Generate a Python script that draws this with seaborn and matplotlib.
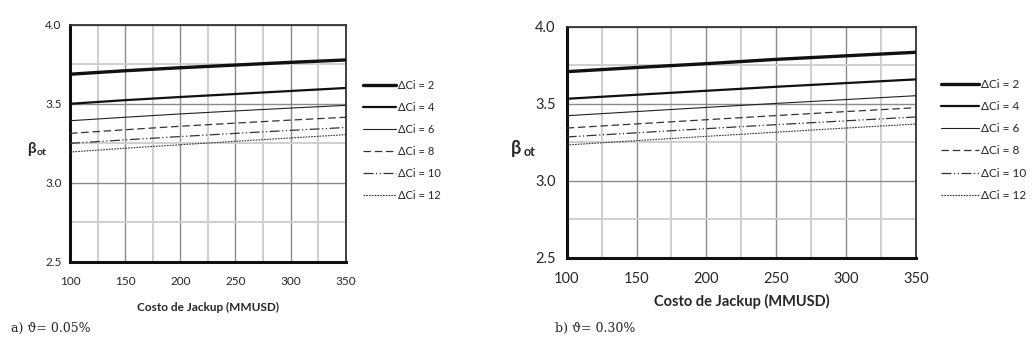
import matplotlib
matplotlib.use("Agg")
import matplotlib.pyplot as plt
import seaborn as sns
import numpy as np
import pandas as pd
from matplotlib.ticker import MultipleLocator, FormatStrFormatter

# costo de jackup (MMUSD)
costo = [100, 150, 200, 250, 300, 350]
labels = ["ΔCi = 2", "ΔCi = 4", "ΔCi = 6", "ΔCi = 8", "ΔCi = 10", "ΔCi = 12"]

# a) theta = 0.05%
beta_a_2 = [3.687, 3.709, 3.728, 3.745, 3.762, 3.777]
beta_a_4 = [3.500, 3.523, 3.543, 3.562, 3.581, 3.600]
beta_a_6 = [3.393, 3.415, 3.436, 3.455, 3.473, 3.490]
beta_a_8 = [3.313, 3.336, 3.358, 3.378, 3.397, 3.415]
beta_a_10 = [3.250, 3.272, 3.293, 3.313, 3.332, 3.350]
beta_a_12 = [3.195, 3.219, 3.241, 3.263, 3.284, 3.305]

# b) theta = 0.30%
beta_b_2 = [3.708, 3.735, 3.760, 3.788, 3.811, 3.834]
beta_b_4 = [3.532, 3.558, 3.584, 3.610, 3.634, 3.658]
beta_b_6 = [3.422, 3.449, 3.476, 3.502, 3.527, 3.552]
beta_b_8 = [3.342, 3.369, 3.396, 3.423, 3.449, 3.474]
beta_b_10 = [3.284, 3.311, 3.338, 3.364, 3.389, 3.414]
beta_b_12 = [3.232, 3.260, 3.288, 3.315, 3.342, 3.368]

series_a = [beta_a_2, beta_a_4, beta_a_6, beta_a_8, beta_a_10, beta_a_12]
series_b = [beta_b_2, beta_b_4, beta_b_6, beta_b_8, beta_b_10, beta_b_12]

widths = [2.4, 1.6, 0.8, 0.9, 0.9, 0.8]
styles = ["-", "-", "-", (0, (6, 3)), (0, (8, 2, 1, 2, 1, 2)), (0, (1.5, 1))]
colors = ["#111111", "#111111", "#222222", "#333333", "#333333", "#333333"]

sns.set_style("white")
plt.rcParams["font.family"] = ["Lato", "DejaVu Sans"]

fig = plt.figure(figsize=(10.35, 3.46), dpi=100)
ax_a = fig.add_axes([0.0676, 0.2428, 0.2664, 0.6858])
ax_b = fig.add_axes([0.5475, 0.2552, 0.3375, 0.6676])


def draw(ax, series, fs, xpad, ypad, lpad):
    for vals, lab, lw, ls, c in zip(series, labels, widths, styles, colors):
        df = pd.DataFrame({"costo": costo, "beta": vals})
        sns.lineplot(data=df, x="costo", y="beta", ax=ax, color=c, lw=lw,
                     linestyle=ls, label=lab, legend=False, zorder=3)
    ax.set_xlim(100, 350)
    ax.set_ylim(2.5, 4.0)
    ax.xaxis.set_major_locator(MultipleLocator(50))
    ax.xaxis.set_minor_locator(MultipleLocator(25))
    ax.yaxis.set_major_locator(MultipleLocator(0.5))
    ax.yaxis.set_minor_locator(MultipleLocator(0.25))
    ax.grid(which="major", color="#8a8a8a", lw=1.0, zorder=1)
    ax.grid(which="minor", color="#cfcfcf", lw=1.4, zorder=0)
    ax.set_axisbelow(True)
    ax.yaxis.set_major_formatter(FormatStrFormatter("%.1f"))
    ax.tick_params(axis="x", which="both", length=0, labelsize=fs, pad=xpad)
    ax.tick_params(axis="y", which="both", length=0, labelsize=fs, pad=ypad)
    ax.set_xlabel("Costo de Jackup (MMUSD)", fontsize=fs, fontweight="bold", labelpad=lpad)
    ax.set_ylabel("")
    for side in ["left", "bottom"]:
        ax.spines[side].set_color("#111111")
        ax.spines[side].set_linewidth(2.2)
    for side in ["top", "right"]:
        ax.spines[side].set_color("#333333")
        ax.spines[side].set_linewidth(1.3)


draw(ax_a, series_a, 8.5, 10, 6, 11)
draw(ax_b, series_b, 10.5, 10, 8, 6)

h, l = ax_a.get_legend_handles_labels()
fig.legend(h, l, loc="upper left", bbox_to_anchor=(0.341, 0.799), frameon=False,
           fontsize=8, handlelength=3.0, handletextpad=0.2, labelspacing=1.0)
h, l = ax_b.get_legend_handles_labels()
fig.legend(h, l, loc="upper left", bbox_to_anchor=(0.899, 0.803), frameon=False,
           fontsize=8.5, handlelength=3.2, handletextpad=0.15, labelspacing=0.95)

# y labels (beta_ot)
fig.text(0.026, 0.57, "β", fontsize=11, fontweight="bold", ha="left", va="center")
fig.text(0.0355, 0.558, "ot", fontsize=7.5, fontweight="bold", ha="left", va="center")
fig.text(0.494, 0.572, "β", fontsize=13, fontweight="bold", ha="left", va="center")
fig.text(0.5055, 0.56, "ot", fontsize=9, fontweight="bold", ha="left", va="center")

# captions
fig.text(0.011, 0.052, "a) ϑ= 0.05%", fontsize=9, family="DejaVu Serif", ha="left", va="center")
fig.text(0.536, 0.052, "b) ϑ= 0.30%", fontsize=9, family="DejaVu Serif", ha="left", va="center")

fig.savefig("out.png", dpi=100)
